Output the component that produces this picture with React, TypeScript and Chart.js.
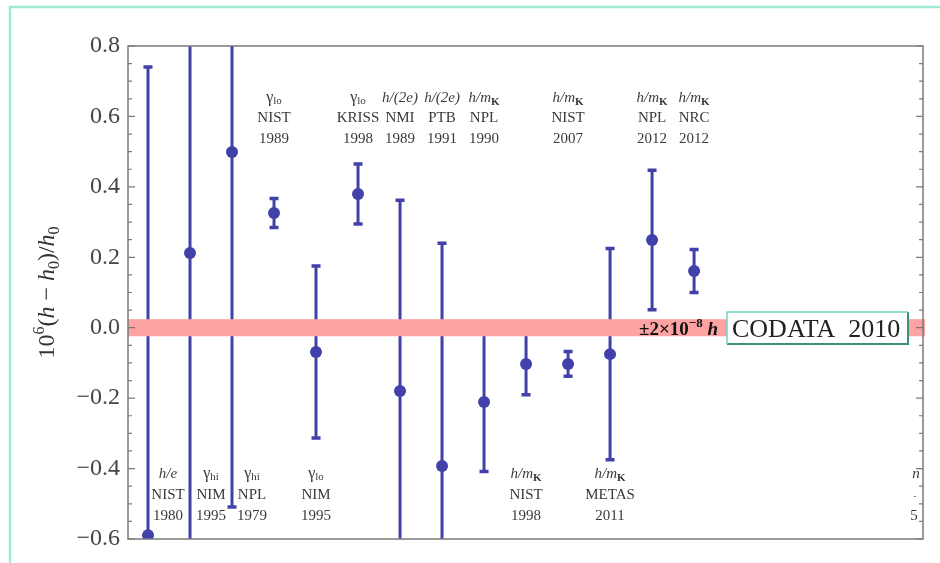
import React, { useEffect, useRef } from 'react';
import { Chart, registerables } from 'chart.js';

Chart.register(...registerables);

// Measurement index (horizontal order of the experiments)
const positions = [1, 2, 3, 4, 5, 6, 7, 8, 9, 10, 11, 12, 13, 14];
// 10^6 (h - h0)/h0
const values = [-0.589, 0.212, 0.499, 0.326, -0.069, 0.38, -0.18, -0.393, -0.211, -0.103, -0.103, -0.075, 0.249, 0.161];
// one-sigma uncertainties, same units
const errors = [1.332, 0.95, 1.011, 0.044, 0.247, 0.088, 0.545, 0.636, 0.2, 0.09, 0.038, 0.303, 0.201, 0.064];
// method, laboratory and year of each determination
const methods = ['h/e', 'γ_hi', 'γ_hi', 'γ_lo', 'γ_lo', 'γ_lo', 'h/(2e)', 'h/(2e)', 'h/m_K', 'h/m_K', 'h/m_K', 'h/m_K', 'h/m_K', 'h/m_K'];
const labs = ['NIST', 'NIM', 'NPL', 'NIST', 'NIM', 'KRISS', 'NMI', 'PTB', 'NPL', 'NIST', 'NIST', 'METAS', 'NPL', 'NRC'];
const years = ['1980', '1995', '1979', '1989', '1995', '1998', '1989', '1991', '1990', '1998', '2007', '2011', '2012', '2012'];
const labelSide = ['below', 'below', 'below', 'above', 'below', 'above', 'above', 'above', 'above', 'below', 'above', 'below', 'above', 'above'];
// CODATA 2010 relative band half-width (±2×10^-8 → 0.02 in units of 10^-6)
const bandHalfWidth = 0.02;
const referenceLabel = 'CODATA  2010';
const yMin = -0.6;
const yMax = 0.8;
const yStep = 0.2;

// horizontal nudges (px) for labels that sit beside their bars
const labelNudgePx = [20, 21, 20, 0, 0, 0, 0, 0, 0, 0, 0, 0, 0, 0];

const SERIF = '"Liberation Serif", "DejaVu Serif", serif';
const MARK = '#4141a9';
const TEXT = '#3a3a3a';

type Part = { t: string; italic?: boolean; bold?: boolean; scale?: number; dy?: number };

function fontFor(p: Part, size: number) {
  return `${p.italic ? 'italic ' : ''}${p.bold ? 'bold ' : ''}${Math.round(size * (p.scale ?? 1))}px ${SERIF}`;
}

function drawRich(
  ctx: CanvasRenderingContext2D,
  parts: Part[],
  x: number,
  y: number,
  size: number,
  align: 'left' | 'center' | 'right',
  color: string
) {
  ctx.save();
  ctx.textBaseline = 'alphabetic';
  ctx.textAlign = 'left';
  ctx.fillStyle = color;
  const widths = parts.map((p) => {
    ctx.font = fontFor(p, size);
    return ctx.measureText(p.t).width;
  });
  const total = widths.reduce((a, b) => a + b, 0);
  let cx = align === 'left' ? x : align === 'center' ? x - total / 2 : x - total;
  parts.forEach((p, i) => {
    ctx.font = fontFor(p, size);
    ctx.fillText(p.t, cx, y + (p.dy ?? 0) * size);
    cx += widths[i];
  });
  ctx.restore();
}

function methodParts(m: string): Part[] {
  const [base, sub] = m.split('_');
  const italic = base.startsWith('h');
  const parts: Part[] = [{ t: base, italic, scale: base === 'γ' ? 1.08 : 1 }];
  if (sub) {
    parts.push(
      base === 'γ'
        ? { t: sub, scale: 0.72, dy: 0.12 }
        : { t: sub, bold: true, scale: 0.72, dy: 0.2 }
    );
  }
  return parts;
}

const decorPlugin = {
  id: 'decor',
  beforeDraw(chart: any) {
    const ctx: CanvasRenderingContext2D = chart.ctx;
    ctx.save();
    ctx.fillStyle = '#ffffff';
    ctx.fillRect(0, 0, chart.width, chart.height);
    // outer frame
    ctx.strokeStyle = '#9fead6';
    ctx.lineWidth = 2.5;
    ctx.beginPath();
    ctx.moveTo(chart.width, 7);
    ctx.lineTo(10, 7);
    ctx.lineTo(10, chart.height);
    ctx.stroke();
    ctx.restore();
  },
  beforeDatasetsDraw(chart: any) {
    const ctx: CanvasRenderingContext2D = chart.ctx;
    const { left, right, top, bottom } = chart.chartArea;
    const xs = chart.scales.x;
    const ys = chart.scales.y;
    ctx.save();

    // error bars
    ctx.save();
    ctx.beginPath();
    ctx.rect(left, top, right - left, bottom - top);
    ctx.clip();
    ctx.strokeStyle = MARK;
    ctx.lineCap = 'butt';
    positions.forEach((p, i) => {
      const px = xs.getPixelForValue(p);
      const hi = ys.getPixelForValue(values[i] + errors[i]);
      const lo = ys.getPixelForValue(values[i] - errors[i]);
      ctx.lineWidth = 3;
      ctx.beginPath();
      ctx.moveTo(px, hi);
      ctx.lineTo(px, lo);
      ctx.stroke();
      ctx.lineWidth = 3.5;
      ctx.beginPath();
      ctx.moveTo(px - 4.5, hi + 1);
      ctx.lineTo(px + 4.5, hi + 1);
      ctx.moveTo(px - 4.5, lo - 1);
      ctx.lineTo(px + 4.5, lo - 1);
      ctx.stroke();
    });
    ctx.restore();

    // reference band, laid over the bars
    const y1 = ys.getPixelForValue(bandHalfWidth);
    const y2 = ys.getPixelForValue(-bandHalfWidth);
    ctx.fillStyle = '#fda3a3';
    ctx.fillRect(left, y1 - 1.5, right - left + 2, y2 - y1 + 3);
    ctx.restore();
  },
  afterDatasetsDraw(chart: any) {
    const ctx: CanvasRenderingContext2D = chart.ctx;
    const { left, right, top, bottom } = chart.chartArea;
    const xs = chart.scales.x;
    const ys = chart.scales.y;
    ctx.save();

    // plot frame
    ctx.strokeStyle = '#7a7a7a';
    ctx.lineWidth = 1.5;
    ctx.strokeRect(left, top, right - left, bottom - top);

    // inward ticks on both vertical sides
    ctx.lineWidth = 1.2;
    const nMinor = Math.round((yMax - yMin) / (yStep / 4));
    for (let k = 0; k <= nMinor; k++) {
      const v = yMin + (k * yStep) / 4;
      const py = ys.getPixelForValue(v);
      const len = k % 4 === 0 ? 7 : 4;
      ctx.beginPath();
      ctx.moveTo(left, py);
      ctx.lineTo(left + len, py);
      ctx.moveTo(right, py);
      ctx.lineTo(right - len, py);
      ctx.stroke();
    }

    // experiment labels
    const labelSize = 15;
    positions.forEach((p, i) => {
      const cx = xs.getPixelForValue(p) + labelNudgePx[i];
      const rows = labelSide[i] === 'above' ? [top + 56, top + 76, top + 97] : [bottom - 61, bottom - 40, bottom - 19];
      drawRich(ctx, methodParts(methods[i]), cx, rows[0], labelSize, 'center', TEXT);
      drawRich(ctx, [{ t: labs[i] }], cx, rows[1], labelSize, 'center', TEXT);
      drawRich(ctx, [{ t: years[i] }], cx, rows[2], labelSize, 'center', TEXT);
    });

    // fragments of a label cut off at the right edge
    drawRich(ctx, [{ t: 'n', italic: true }], right - 7, bottom - 61, labelSize, 'center', TEXT);
    drawRich(ctx, [{ t: '-' }], right - 8, bottom - 40, 9, 'center', TEXT);
    drawRich(ctx, [{ t: '5' }], right - 9, bottom - 19, labelSize, 'center', TEXT);

    // band annotation
    const y0 = ys.getPixelForValue(0);
    drawRich(
      ctx,
      [
        { t: '±2×10', bold: true },
        { t: '−8', bold: true, scale: 0.7, dy: -0.42 },
        { t: ' h', bold: true, italic: true },
      ],
      718,
      y0 + 7,
      19,
      'right',
      '#111111'
    );

    // reference box
    const bx = 727;
    const by = 312;
    const bw = 181;
    const bh = 32;
    ctx.fillStyle = '#ffffff';
    ctx.fillRect(bx, by, bw, bh);
    ctx.strokeStyle = '#3d8f80';
    ctx.lineWidth = 2;
    ctx.beginPath();
    ctx.moveTo(bx + bw, by);
    ctx.lineTo(bx + bw, by + bh);
    ctx.lineTo(bx, by + bh);
    ctx.stroke();
    ctx.strokeStyle = '#6fd6c0';
    ctx.lineWidth = 1.5;
    ctx.beginPath();
    ctx.moveTo(bx, by + bh);
    ctx.lineTo(bx, by);
    ctx.lineTo(bx + bw, by);
    ctx.stroke();
    drawRich(ctx, [{ t: referenceLabel }], bx + 5, by + 25, 25.5, 'left', '#222222');

    // vertical axis title
    ctx.translate(46, (top + bottom) / 2);
    ctx.rotate(-Math.PI / 2);
    drawRich(
      ctx,
      [
        { t: '10' },
        { t: '6', scale: 0.68, dy: -0.4 },
        { t: '(' },
        { t: 'h', italic: true },
        { t: ' − ' },
        { t: 'h', italic: true },
        { t: '0', scale: 0.68, dy: 0.2 },
        { t: ')/' },
        { t: 'h', italic: true },
        { t: '0', scale: 0.68, dy: 0.2 },
      ],
      0,
      8,
      24,
      'center',
      '#333333'
    );
    ctx.restore();
  },
};

export default function App() {
  const ref = useRef<HTMLCanvasElement | null>(null);

  useEffect(() => {
    document.body.style.margin = '0';
    const canvas = ref.current;
    if (!canvas) return;
    const chart = new Chart(canvas, {
      type: 'scatter',
      data: {
        datasets: [
          {
            data: positions.map((p, i) => ({ x: p, y: values[i] })),
            pointRadius: 6,
            pointHoverRadius: 6,
            backgroundColor: MARK,
            borderWidth: 0,
          },
        ],
      },
      options: {
        responsive: false,
        animation: false,
        events: [],
        layout: { padding: { left: 0, top: 46, right: 17, bottom: 24 } },
        plugins: { legend: { display: false }, tooltip: { enabled: false } },
        scales: {
          x: { type: 'linear', min: 0.524, max: 19.45, display: false },
          y: {
            min: yMin,
            max: yMax,
            grid: { display: false, drawTicks: false },
            border: { display: false },
            ticks: {
              stepSize: yStep,
              padding: 8,
              color: '#444444',
              font: { family: SERIF, size: 24 },
              callback: (v: any) => Number(v).toFixed(1).replace('-', '−'),
            },
            afterFit: (s: any) => {
              s.width = 128;
            },
          },
        },
      },
      plugins: [decorPlugin],
    });
    return () => chart.destroy();
  }, []);

  return (
    <div style={{ width: 940, height: 563 }}>
      <canvas ref={ref} width={940} height={563} />
    </div>
  );
}
